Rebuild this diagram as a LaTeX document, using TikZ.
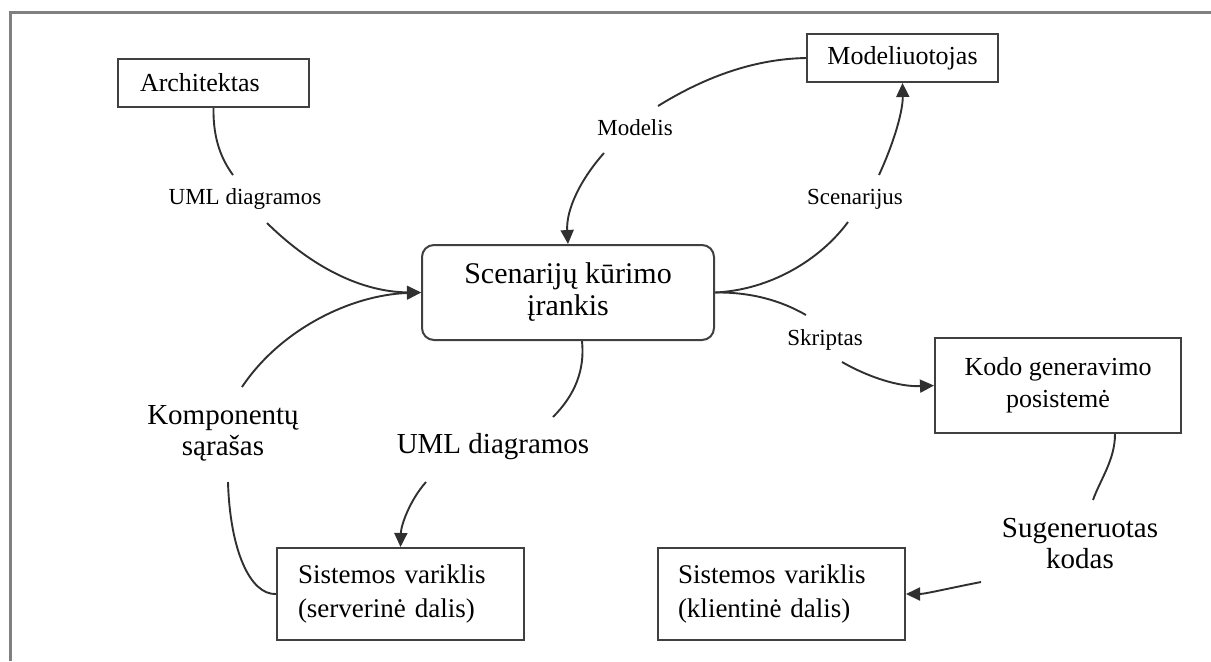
\documentclass[tikz,border=0pt]{standalone}
\usepackage{fontspec}
\setmainfont{Liberation Serif}
\usetikzlibrary{arrows.meta}
\definecolor{boxgray}{HTML}{404040}
\definecolor{linegray}{HTML}{303030}
\definecolor{framegray}{HTML}{808080}
\tikzset{
 box/.style={draw=boxgray, line width=1pt, inner sep=0pt, minimum height=24pt, font=\fontsize{13}{16}\selectfont},
 lbl/.style={inner sep=0pt, font=\fontsize{11.5}{14}\selectfont},
 biglbl/.style={inner sep=0pt, align=center, font=\fontsize{14.5}{15.5}\selectfont},
 conn/.style={draw=linegray, line width=0.95pt},
 arr/.style={conn, -{Triangle[length=7pt,width=6.5pt]}},
}
\begin{document}
\begin{tikzpicture}[x=0.5pt,y=-0.5pt]
\useasboundingbox (0,0) rectangle (1211,661);
\draw[framegray, line width=1.5pt] (10,661) -- (10,12) -- (1211,12);

\node[box, text width=73.5pt, inner xsep=11pt, minimum height=24pt, align=left] (arch) at (213.5,83) {Architektas};
\node[box, minimum width=95.5pt, minimum height=24pt] (model) at (902.5,58) {Modeliuotojas};
\node[box, rounded corners=6pt, minimum width=146pt, minimum height=47.5pt, align=center, font=\fontsize{15}{16}\selectfont] (tool) at (568,292.5) {Scenarijų kūrimo\\įrankis};
\node[box, minimum width=123pt, minimum height=47.5pt, align=center] (kodo) at (1058,385.5) {Kodo generavimo\\posistemė};
\node[box, text width=102.5pt, inner xsep=10.5pt, minimum height=46pt, align=left, font=\fontsize{13.5}{17}\selectfont] (srv) at (400.5,594) {Sistemos variklis\\(serverinė dalis)};
\node[box, text width=103.5pt, inner xsep=10pt, minimum height=46pt, align=left, font=\fontsize{13.5}{17}\selectfont] (client) at (781.5,594) {Sistemos variklis\\(klientinė dalis)};

\node[lbl] (l1) at (245,199) {UML diagramos};
\node[lbl] (l2) at (635,128) {Modelis};
\node[lbl] (l3) at (855,199) {Scenarijus};
\node[lbl] (l4) at (825,340) {Skriptas};
\node[biglbl] (l5) at (223,433) {Komponentų\\sąrašas};
\node[biglbl] (l6) at (493,447) {UML diagramos};
\node[biglbl] (l7) at (1080,544) {Sugeneruotas\\kodas};

\coordinate (a1) at (233,175);
\coordinate (a2) at (267,223);
\coordinate (k1) at (242,387);
\coordinate (k2) at (228,482);
\coordinate (m1) at (658,106);
\coordinate (m2) at (604,153);
\coordinate (s1) at (848,222);
\coordinate (s2) at (879,175);
\coordinate (p1) at (806,315);
\coordinate (p2) at (842,362);
\coordinate (u1) at (553,417);
\coordinate (u2) at (426,482);
\coordinate (g1) at (1093,500);
\coordinate (g2) at (981,582);

\draw[conn] (arch.south) .. controls (213,140) and (222,160) .. (a1);
\draw[arr] (a2) .. controls (320,275) and (370,292) .. (tool.west);
\draw[arr] (k1) .. controls (280,330) and (350,295) .. (tool.west);
\draw[conn] (k2) .. controls (230,550) and (250,595) .. (srv.west);
\draw[conn] (model.west) .. controls (750,59) and (700,80) .. (m1);
\draw[arr] (m2) .. controls (580,180) and (566,210) .. (tool.north);
\draw[conn] (tool.east) .. controls (770,290) and (820,260) .. (s1);
\draw[arr] (s2) .. controls (895,140) and (903,110) .. (model.south);
\draw[conn] (tool.east) .. controls (750,292) and (780,300) .. (p1);
\draw[arr] (p2) .. controls (870,378) and (900,387) .. (kodo.west);
\draw[conn] ([xshift=7pt]tool.south) .. controls (585,370) and (575,395) .. (u1);
\draw[arr] (u2) .. controls (410,500) and (401,525) .. (srv.north);
\draw[conn] ([xshift=28.5pt]kodo.south) .. controls (1115,460) and (1100,480) .. (g1);
\draw[arr] (g2) .. controls (950,588) and (925,594) .. (client.east);
\end{tikzpicture}
\end{document}
